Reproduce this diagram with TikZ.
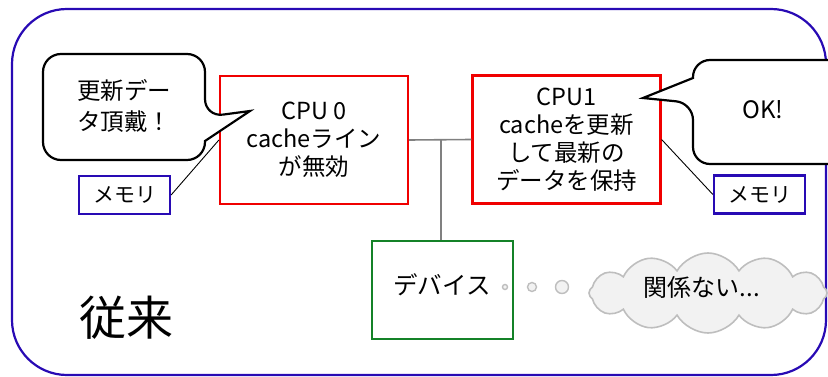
\documentclass[tikz,border=0pt]{standalone}
\usepackage{fontspec}
\setmainfont{Noto Sans CJK JP}
\usetikzlibrary{shapes.symbols}
\definecolor{frameblue}{RGB}{40,10,180}
\definecolor{cpured}{RGB}{240,0,0}
\definecolor{devgreen}{RGB}{20,130,40}
\definecolor{cloudgray}{RGB}{190,190,190}
\definecolor{cloudfill}{RGB}{242,242,242}
\definecolor{busgray}{RGB}{128,128,128}
\begin{document}
\begin{tikzpicture}[x=1pt,y=-1pt,
  frame/.style={draw=frameblue, line width=2.2pt, rounded corners=55pt},
  cpubox/.style={draw=cpured, line width=2.2pt, minimum width=188pt, minimum height=128pt, align=center, inner sep=0pt, font=\fontsize{23.5}{28}\selectfont},
  membox/.style={draw=frameblue, line width=2.2pt, minimum width=91pt, minimum height=38pt, inner sep=0pt, font=\fontsize{21}{24}\selectfont},
  devbox/.style={draw=devgreen, line width=2.2pt, minimum width=141pt, minimum height=98pt, inner sep=0pt},
  bubble/.style={draw=black, line width=2.2pt, fill=white},
  bustxt/.style={font=\fontsize{24.5}{28}\selectfont, align=center, inner sep=0pt},
  bus/.style={draw=busgray, line width=1.6pt},
  thin/.style={draw=black, line width=0.9pt},
  dot/.style={circle, draw=cloudgray, fill=cloudfill, line width=1.4pt, inner sep=0pt}]
\useasboundingbox (0,0) rectangle (828,377);
% outer frame
\draw[frame] (12,9) rectangle (826,375);
% CPU boxes
\node[cpubox] (cpu0) at (314,140) {CPU 0\\cacheライン\\が無効};
\node[cpubox] (cpu1) at (566.5,139.5) {CPU1\\cacheを更新\\して最新の\\データを保持};
% device
\node[devbox] (dev) at (442.5,290) {};
\node[bustxt] (devtxt) at (442,285) {デバイス};
% bus
\coordinate (busj) at (441,140);
\draw[bus] (cpu0.east) -- (cpu1.west);
\draw[bus] (busj) -- (busj |- dev.north);
% memories
\node[membox] (mem0) at (124.5,195) {メモリ};
\node[membox] (mem1) at (759.5,194.5) {メモリ};
\draw[thin] (mem0.east) -- (cpu0.west);
\draw[thin] (cpu1.east) -- (mem1.west);
% left speech bubble
\draw[bubble] (124,54) [rounded corners=18pt] -- (205,54) -- (205,117) [sharp corners] -- (250,111) -- (205,141) -- (205,142) [rounded corners=18pt] -- (205,160) -- (43,160) -- (43,54) -- cycle;
\node[bustxt, font=\fontsize{23.5}{31}\selectfont] (req) at (124,106) {更新デー\\タ頂戴！};
% right speech bubble
\draw[bubble] (760,164) [rounded corners=17pt] -- (693,164) -- (693,103) [sharp corners] -- (643,98) -- (693,78) -- (693,77.9) [rounded corners=17pt] -- (693,60) -- (845,60) -- (845,164) -- cycle;
\node[bustxt, font=\fontsize{24}{28}\selectfont] (ok) at (763,110) {OK!};
% thought dots and cloud
\node[dot, minimum size=5pt] (d1) at (505,287) {};
\node[dot, minimum size=9pt] (d2) at (532,287) {};
\node[dot, minimum size=13pt] (d3) at (562,287) {};
\node[cloud, cloud puffs=12, cloud puff arc=120, aspect=3, draw=cloudgray, fill=cloudfill, line width=1.6pt, minimum width=238pt, minimum height=80pt, inner sep=0pt] (cloud) at (708,293) {};
\node[bustxt, font=\fontsize{24}{28}\selectfont] (cloudtxt) at (702,287) {関係ない...};
% label
\node[inner sep=0pt, font=\fontsize{47}{50}\selectfont] (title) at (126,318) {従来};
\end{tikzpicture}
\end{document}
